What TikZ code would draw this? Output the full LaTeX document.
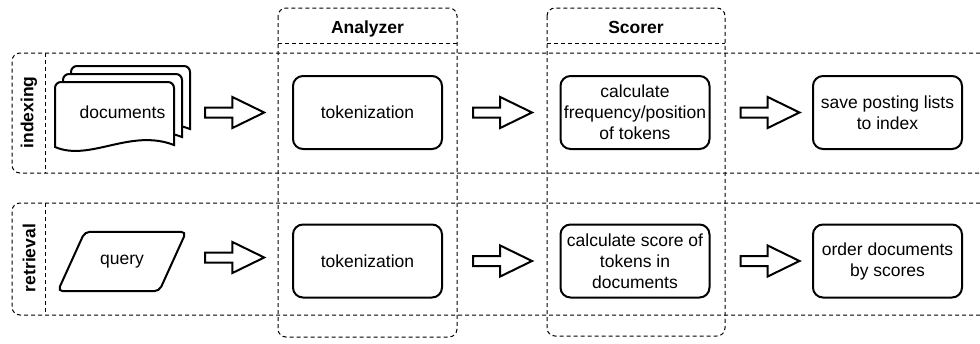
\documentclass[tikz,border=0pt]{standalone}
\usepackage{fontspec}
\setmainfont{Liberation Sans}
\usetikzlibrary{shapes.arrows, positioning}
\tikzstyle{stage}=[draw, rectangle, rounded corners=10pt, line width=2pt,
minimum width=149pt, minimum height=73pt, align=center, inner sep=1pt]
\tikzstyle{fatarrow}=[draw, single arrow, line width=2pt, inner xsep=0pt, inner ysep=4pt,
single arrow head extend=10.5pt, single arrow tip angle=52, minimum height=59pt]
\tikzstyle{lane}=[draw, dash pattern=on 4pt off 3pt, line width=1pt, rounded corners=8pt]
\tikzstyle{sheet}=[draw, line width=2pt, fill=white]
\tikzstyle{title}=[font=\fontsize{17.5}{21}\selectfont\bfseries]

\begin{document}
\begin{tikzpicture}[x=1pt, y=-1pt, font=\fontsize{17.5}{21}\selectfont]
		\useasboundingbox (0,0) rectangle (980,343);
		% columns
		\draw[lane] (278,8) rectangle (457,337);
		\draw[lane] (278,43) -- (457,43);
		\draw[lane] (547,8) rectangle (725,336);
		\draw[lane] (547,43) -- (725,43);
		\node[title, anchor=base] (analyzer) at (367.5,33) {Analyzer};
		\node[title, anchor=base] (scorer) at (636,33) {Scorer};
		% lanes
		\draw[lane] (980,53) -- (12,53) -- (12,173) -- (980,173);
		\draw[lane] (45,53) -- (45,173);
		\draw[lane] (980,203) -- (12,203) -- (12,315) -- (980,315);
		\draw[lane] (45,203) -- (45,315);
		\node[title, rotate=90] (indexing) at (29,112.5) {indexing};
		\node[title, rotate=90] (retrieval) at (29,258) {retrieval};
		% indexing
		\foreach \d in {16,8,0}
			\draw[sheet, shift={(\d,-\d)}] (55,147) -- (55,88) to[out=90,in=180] (61,82)
			-- (168,82) to[out=0,in=90] (174,88) -- (174,145)
			.. controls (130,128) and (90,162) .. (55,147) -- cycle;
		\node[minimum width=136pt, minimum height=86pt] (docs) at (122.5,112.5) {documents};
		\node[stage] (tokA) at (367.5,112.5) {tokenization};
		\node[stage, right of=tokA, node distance=267.5pt] (scoreA) {calculate\\frequency/position\\of tokens};
		\node[stage, right of=scoreA, node distance=252.5pt] (saveA) {save posting lists\\to index};
		\node[fatarrow, right=13.5pt of docs] (a1) {};
		\node[fatarrow, right=29pt of tokA] (a2) {};
		\node[fatarrow, right=29pt of scoreA] (a3) {};
		% retrieval
		\node[minimum width=128pt, minimum height=59pt] (query) at (122,261.5) {query};
		\draw[line width=2pt, rounded corners=5pt] ([xshift=27pt]query.north west)
		-- (query.north east) -- ([xshift=-27pt]query.south east) -- (query.south west) -- cycle;
		\node[stage, below of=tokA, node distance=148.5pt] (tokB) {tokenization};
		\node[stage, right of=tokB, node distance=267.5pt] (scoreB) {calculate score of\\tokens in\\documents};
		\node[stage, right of=scoreB, node distance=252.5pt] (orderB) {order documents\\by scores};
		\node[fatarrow, right=18pt of query, yshift=4pt] (b1) {};
		\node[fatarrow, right=29pt of tokB] (b2) {};
		\node[fatarrow, right=29pt of scoreB] (b3) {};
	\end{tikzpicture}
\end{document}
